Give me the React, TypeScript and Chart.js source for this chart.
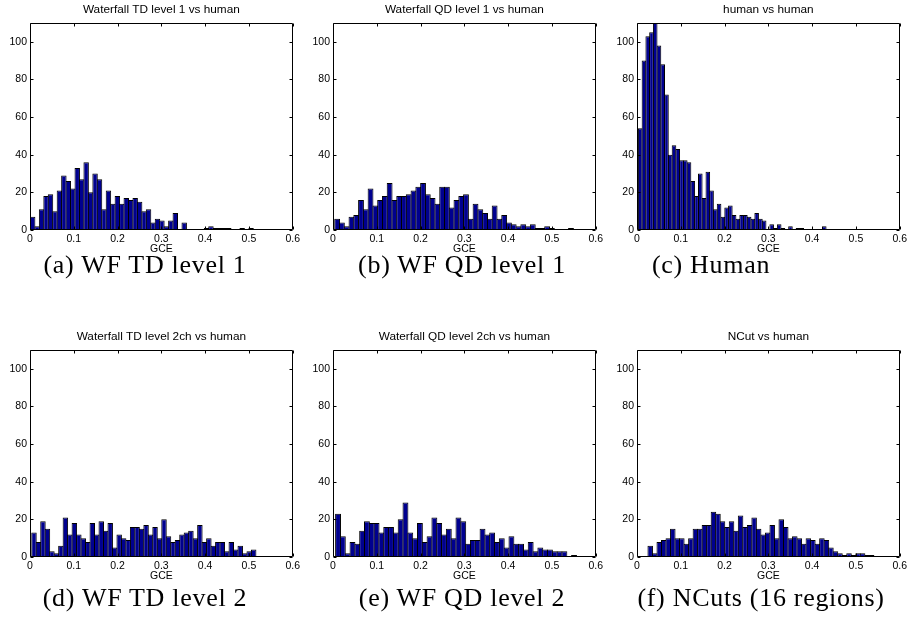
import React, { useEffect, useRef } from "react";
import { Chart, registerables } from "chart.js";

Chart.register(...registerables);

// ---------- data ----------
const xTicks = [0, 0.1, 0.2, 0.3, 0.4, 0.5, 0.6];
const xTickLabels = ["0", "0.1", "0.2", "0.3", "0.4", "0.5", "0.6"];
const yTicks = [0, 20, 40, 60, 80, 100];
const yTickLabels = ["0", "20", "40", "60", "80", "100"];
const xLabel = "GCE";

const titles = [
  "Waterfall TD level 1 vs human",
  "Waterfall QD level 1 vs human",
  "human vs human",
  "Waterfall TD level 2ch vs human",
  "Waterfall QD level 2ch vs human",
  "NCut vs human",
];

const captions = [
  "(a) WF TD level 1",
  "(b) WF QD level 1",
  "(c) Human",
  "(d) WF TD level 2",
  "(e) WF QD level 2",
  "(f) NCuts (16 regions)",
];

// histogram bin ranges (first bin start, last bin end); 50 bins each
const rangeA = [0.001, 0.51];
const rangeB = [0.004, 0.549];
const rangeC = [0.003, 0.432];
const rangeD = [0.004, 0.516];
const rangeE = [0.006, 0.556];
const rangeF = [0.025, 0.541];

const countsA = [7, 2, 11, 18, 19, 10, 21, 29, 26, 22, 33, 27, 36, 20, 30, 27, 11, 21, 14, 18, 14, 17, 16, 17, 15, 10, 11, 4, 6, 5, 2, 5, 9, 0, 4, 0, 0, 0, 0, 1, 2, 1, 1, 1, 1, 0, 0, 1, 0, 1];
const countsB = [6, 4, 2, 7, 8, 16, 11, 22, 13, 16, 18, 25, 16, 18, 18, 19, 21, 23, 25, 19, 17, 14, 23, 23, 12, 16, 18, 19, 6, 14, 11, 9, 6, 13, 6, 8, 4, 3, 2, 3, 2, 3, 1, 1, 2, 1, 0, 0, 0, 1];
const countsC = [54, 90, 103, 105, 110, 98, 88, 72, 40, 45, 43, 37, 37, 36, 26, 18, 30, 17, 31, 21, 11, 14, 7, 12, 13, 8, 6, 8, 8, 7, 6, 9, 6, 5, 0, 3, 1, 3, 1, 0, 2, 0, 1, 1, 0, 0, 0, 0, 0, 2];
const countsD = [13, 8, 19, 15, 3, 2, 6, 21, 12, 18, 12, 10, 8, 18, 12, 19, 14, 18, 5, 12, 10, 9, 16, 16, 15, 17, 12, 16, 10, 20, 11, 8, 9, 12, 13, 14, 10, 17, 8, 10, 6, 8, 8, 3, 8, 4, 6, 2, 3, 4];
const countsE = [23, 11, 2, 8, 7, 14, 19, 18, 18, 13, 16, 16, 13, 20, 29, 13, 10, 18, 8, 11, 21, 18, 12, 15, 10, 21, 19, 7, 9, 9, 15, 12, 13, 8, 10, 5, 11, 7, 7, 4, 8, 3, 5, 4, 4, 3, 3, 3, 0, 1];
const countsF = [6, 2, 8, 9, 10, 15, 10, 10, 7, 10, 15, 15, 17, 17, 24, 23, 19, 16, 19, 14, 22, 16, 17, 21, 15, 12, 13, 17, 10, 20, 16, 10, 11, 10, 7, 10, 9, 7, 10, 9, 5, 3, 2, 1, 2, 1, 2, 2, 1, 1];

const ranges = [rangeA, rangeB, rangeC, rangeD, rangeE, rangeF];
const counts = [countsA, countsB, countsC, countsD, countsE, countsF];

// ---------- layout ----------
const PLOT_W = 263;
const PLOT_H = 207;
const Y_AXIS_W = 30;
const X_AXIS_H = 30;
const TITLE_H = 23;
const RIGHT_PAD = 10;
const plotLefts = [30, 333, 637, 30, 333, 637];
const plotTops = [23, 23, 23, 350, 350, 350];
const captionCenters = [145, 462, 711, 145, 462, 761];
const captionTops = [252, 252, 252, 585, 585, 585];

const BAR_FILL = "rgb(0,0,143)";
const SANS = "'Liberation Sans', Arial, Helvetica, sans-serif";

const boxPlugin = {
  id: "matlabBox",
  afterDatasetsDraw(chart: any) {
    const { ctx, chartArea: a, scales } = chart;
    const l = Math.round(a.left) + 0.5;
    const r = Math.round(a.right) - 0.5;
    const t = Math.round(a.top) + 0.5;
    const b = Math.round(a.bottom) - 0.5;
    ctx.save();
    ctx.strokeStyle = "#000";
    ctx.lineWidth = 1;
    ctx.beginPath();
    ctx.rect(l, t, r - l, b - t);
    const tl = 3;
    scales.x.ticks.forEach((tk: any) => {
      const px = Math.round(scales.x.getPixelForValue(tk.value)) + 0.5;
      ctx.moveTo(px, b);
      ctx.lineTo(px, b - tl);
      ctx.moveTo(px, t);
      ctx.lineTo(px, t + tl);
    });
    scales.y.ticks.forEach((tk: any) => {
      const py = Math.round(scales.y.getPixelForValue(tk.value)) + 0.5;
      ctx.moveTo(l, py);
      ctx.lineTo(l + tl, py);
      ctx.moveTo(r, py);
      ctx.lineTo(r - tl, py);
    });
    ctx.stroke();
    ctx.restore();
  },
};

function Histogram({ idx }: { idx: number }) {
  const ref = useRef<HTMLCanvasElement | null>(null);
  useEffect(() => {
    if (!ref.current) return;
    const [start, end] = ranges[idx];
    const c = counts[idx];
    const w = (end - start) / c.length;
    const data = c.map((v, i) => ({ x: start + (i + 0.5) * w, y: v }));
    const chart = new Chart(ref.current, {
      type: "bar",
      data: {
        datasets: [
          {
            data: data as any,
            backgroundColor: BAR_FILL,
            borderColor: "#000",
            borderWidth: 1,
            borderSkipped: "start",
            categoryPercentage: 1,
            barPercentage: 1.22,
          } as any,
        ],
      },
      options: {
        animation: false,
        responsive: false,
        events: [],
        layout: { padding: { left: 0, right: RIGHT_PAD, top: 0, bottom: 0 } },
        plugins: {
          legend: { display: false },
          tooltip: { enabled: false },
          title: {
            display: true,
            text: titles[idx],
            fullSize: false,
            color: "#000",
            font: { family: SANS, size: 11.8, weight: "normal" },
            padding: { top: 3, bottom: 5.8 },
          },
        },
        scales: {
          x: {
            type: "linear",
            min: 0,
            max: 0.6,
            offset: false,
            grid: { display: false, drawTicks: false, offset: false },
            border: { display: false },
            afterBuildTicks: (s: any) => {
              s.ticks = xTicks.map((v) => ({ value: v }));
            },
            afterFit: (s: any) => {
              s.height = X_AXIS_H;
            },
            ticks: {
              autoSkip: false,
              maxRotation: 0,
              padding: 3,
              color: "#000",
              font: { family: SANS, size: 10.5 },
              callback: (_v: any, i: number) => xTickLabels[i],
            },
            title: {
              display: true,
              text: xLabel,
              color: "#000",
              font: { family: SANS, size: 10.5 },
              padding: { top: 0, bottom: 4.2 },
            },
          },
          y: {
            min: 0,
            max: 110,
            grid: { display: false, drawTicks: false },
            border: { display: false },
            afterBuildTicks: (s: any) => {
              s.ticks = yTicks.map((v) => ({ value: v }));
            },
            afterFit: (s: any) => {
              s.width = Y_AXIS_W;
            },
            ticks: {
              padding: 3,
              color: "#000",
              font: { family: SANS, size: 10.5 },
              callback: (_v: any, i: number) => yTickLabels[i],
            },
          },
        },
      } as any,
      plugins: [boxPlugin],
    });
    return () => chart.destroy();
  }, [idx]);

  const cw = Y_AXIS_W + PLOT_W + RIGHT_PAD;
  const ch = TITLE_H + PLOT_H + X_AXIS_H;
  return (
    <canvas
      ref={ref}
      width={cw}
      height={ch}
      style={{
        position: "absolute",
        left: plotLefts[idx] - Y_AXIS_W,
        top: plotTops[idx] - TITLE_H,
        width: cw,
        height: ch,
        display: "block",
      }}
    />
  );
}

export default function App() {
  return (
    <div
      style={{
        position: "absolute",
        left: 0,
        top: 0,
        width: 911,
        height: 618,
        overflow: "hidden",
        background: "#fff",
      }}
    >
      {titles.map((_, i) => (
        <Histogram key={"h" + i} idx={i} />
      ))}
      {captions.map((c, i) => (
        <div
          key={"c" + i}
          style={{
            position: "absolute",
            left: captionCenters[i] - 200,
            top: captionTops[i],
            width: 400,
            textAlign: "center",
            fontFamily: "'Liberation Serif', 'Times New Roman', serif",
            fontSize: 26,
            lineHeight: "26px",
            letterSpacing: "0.7px",
            color: "#000",
            whiteSpace: "nowrap",
          }}
        >
          {c}
        </div>
      ))}
    </div>
  );
}
